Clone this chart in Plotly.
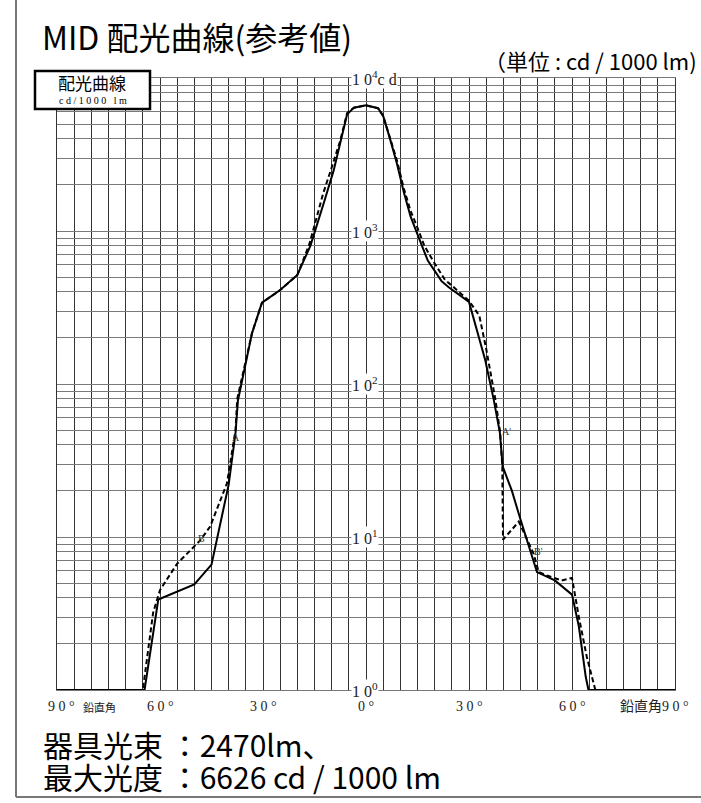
import math
import plotly.graph_objects as go

# ---- data ----
solid_angle = [-90, -64.5, -60.5, -50, -45, -40, -38, -37.3, -33.2, -30.3, -25, -20, -16.2, -14.5, -12,
               -9.4, -7.5, -5.5, -3.5, 0, 3.5, 5, 7, 9, 11, 13, 15, 18, 22, 24, 30, 34.7, 37.2, 39,
               39.8, 42.5, 45, 49.8, 55, 60, 62, 64, 64.8, 90]
solid_cd = [1, 1, 3.9, 4.9, 6.6, 22, 48, 78, 215, 340, 411, 516, 800, 1050, 1600,
            2500, 3700, 5800, 6400, 6626, 6350, 5650, 4000, 2760, 1800, 1240, 950, 640, 470, 430, 344, 144, 79, 48,
            29, 20, 13, 5.9, 5.2, 4.2, 2.6, 1.22, 1, 1]

dash_angle = [-90, -65, -62, -60, -55, -48.3, -45.4, -40.5, -38, -37.5, -33.2, -30.3, -25, -20, -16.5, -15,
              -12.5, -10, -7.5, -5.5, -3.5, 0, 3.5, 5, 7, 9, 11, 13, 15, 17, 19.5, 23, 25, 30, 33, 35, 37.7,
              39.1, 39.7, 39.9, 44.5, 48.8, 50.3, 52.7, 57, 60, 62, 64.3, 66.8, 90]
dash_cd = [1, 1, 3.2, 4.5, 6.7, 9.5, 11.7, 22.4, 50, 80, 215, 340, 411, 516, 820, 1100,
           1750, 2600, 3900, 5900, 6400, 6626, 6350, 5650, 4100, 2900, 1900, 1350, 1050, 800, 640, 480, 440, 350, 280, 170, 79,
           47.6, 28.8, 9.6, 12.6, 7.8, 5.9, 5.6, 5.2, 5.4, 3.0, 1.65, 1, 1]

decade_vals = [0, 1, 2, 3, 4]
decade_text = ["1 0<sup>0</sup>", "1 0<sup>1</sup>", "1 0<sup>2</sup>", "1 0<sup>3</sup>", "1 0<sup>4</sup>c d"]

tick_angles = [-90, -60, -30, 0, 30, 60, 90]
tick_text = ["9 0 °", "6 0 °", "3 0 °", "0 °", "3 0 °", "6 0 °", "鉛直角9 0 °"]

curve_marks = ["A", "B", "A'", "B'"]
mark_angle = [-37.8, -48, 40.8, 50.1]
mark_cd = [45, 9.8, 48.6, 8.1]

title_text = "MID 配光曲線(参考値)"
unit_text = "（単位 : cd / 1000 lm)"
info_lines = ["器具光束 ：2470lm、", "最大光度 ：6626 cd / 1000 lm"]

# ---- layout geometry ----
W, H = 701, 803
ML, MR, MT, MB = 57, 26, 78, 113
PW, PH = W - ML - MR, H - MT - MB


def px(x):
    return (x - ML) / PW


def py(y):
    return (H - MB - y) / PH


grid_y = [m * 10 ** e for e in range(4) for m in range(1, 10)] + [10000]

SERIF = "Liberation Serif, Noto Sans CJK JP, serif"
SANS = "Noto Sans CJK JP, sans-serif"

fig = go.Figure()
fig.add_trace(go.Scatter(x=solid_angle, y=solid_cd, mode="lines",
                         line=dict(color="black", width=2), hoverinfo="skip", showlegend=False))
fig.add_trace(go.Scatter(x=dash_angle, y=dash_cd, mode="lines",
                         line=dict(color="black", width=2, dash="5px,3px"), hoverinfo="skip", showlegend=False))

ann = []
# decade labels at the centre
for v, t in zip(decade_vals, decade_text):
    ann.append(dict(x=0, y=v, xref="x", yref="y", text=t, showarrow=False, xanchor="left",
                    yanchor="middle", xshift=-15, bgcolor="white", borderpad=0,
                    font=dict(family=SERIF, size=16, color="#222")))
# angle tick labels
for a, t in zip(tick_angles, tick_text):
    xa, xs = "center", 0
    if a == -90:
        xs = 4
    if a == 90:
        xa, xs = "right", 16
    ann.append(dict(x=a, y=py(707), xref="x", yref="paper", text=t, showarrow=False,
                    xanchor=xa, yanchor="middle", xshift=xs,
                    font=dict(family=SERIF, size=14, color="#222")))
ann.append(dict(x=px(99), y=py(707), xref="paper", yref="paper", text="鉛直角", showarrow=False,
                xanchor="center", yanchor="middle", font=dict(family=SANS, size=11, color="#222")))
# curve marks
for t, a, v in zip(curve_marks, mark_angle, mark_cd):
    ann.append(dict(x=a, y=math.log10(v), xref="x", yref="y", text=t, showarrow=False,
                    font=dict(family=SERIF, size=10, color="#333")))
# title and units
ann.append(dict(x=px(40), y=py(36), xref="paper", yref="paper", text=title_text, showarrow=False,
                xanchor="left", yanchor="middle", font=dict(family=SANS, size=32, color="black")))
ann.append(dict(x=px(699), y=py(60), xref="paper", yref="paper", text=unit_text, showarrow=False,
                xanchor="right", yanchor="middle", font=dict(family=SANS, size=22, color="black")))
# legend box texts
ann.append(dict(x=px(92), y=py(83), xref="paper", yref="paper", text="配光曲線", showarrow=False,
                xanchor="center", yanchor="middle", font=dict(family=SANS, size=17, color="black")))
ann.append(dict(x=px(93), y=py(101), xref="paper", yref="paper", text="c d / 1 0 0 0   l m", showarrow=False,
                xanchor="center", yanchor="middle", font=dict(family=SERIF, size=10, color="black")))
# info lines
for i, t in enumerate(info_lines):
    ann.append(dict(x=px(41), y=py(744 + 32 * i), xref="paper", yref="paper", text=t, showarrow=False,
                    xanchor="left", yanchor="middle", font=dict(family=SANS, size=30, color="black")))

shapes = [
    dict(type="line", xref="paper", yref="paper", x0=px(16), x1=px(16), y0=py(0), y1=py(797),
         line=dict(color="#777", width=2), layer="above"),
    dict(type="line", xref="paper", yref="paper", x0=px(16), x1=px(701), y0=py(797), y1=py(797),
         line=dict(color="#777", width=2), layer="above"),
    dict(type="rect", xref="paper", yref="paper", x0=px(35), x1=px(150), y0=py(71), y1=py(109),
         fillcolor="white", line=dict(color="black", width=2.5), layer="above"),
]

fig.update_layout(
    width=W, height=H, margin=dict(l=ML, r=MR, t=MT, b=MB, pad=0),
    paper_bgcolor="white", plot_bgcolor="white", showlegend=False,
    annotations=ann, shapes=shapes,
    xaxis=dict(range=[-90, 90], tickmode="linear", tick0=-90, dtick=5, showticklabels=False, ticks="",
               showgrid=True, gridcolor="#333", gridwidth=1, zeroline=False,
               showline=True, mirror=True, linecolor="#777", linewidth=1, fixedrange=True),
    yaxis=dict(type="log", range=[0, 4], tickmode="array", tickvals=grid_y, showticklabels=False, ticks="",
               showgrid=True, gridcolor="#7a7a7a", gridwidth=1.2, zeroline=False,
               showline=True, mirror=True, linecolor="#333", linewidth=1, fixedrange=True),
)

fig.write_html("out.html", config={"displayModeBar": False},
               post_script="document.body.style.margin='0px';document.body.style.padding='0px';")
